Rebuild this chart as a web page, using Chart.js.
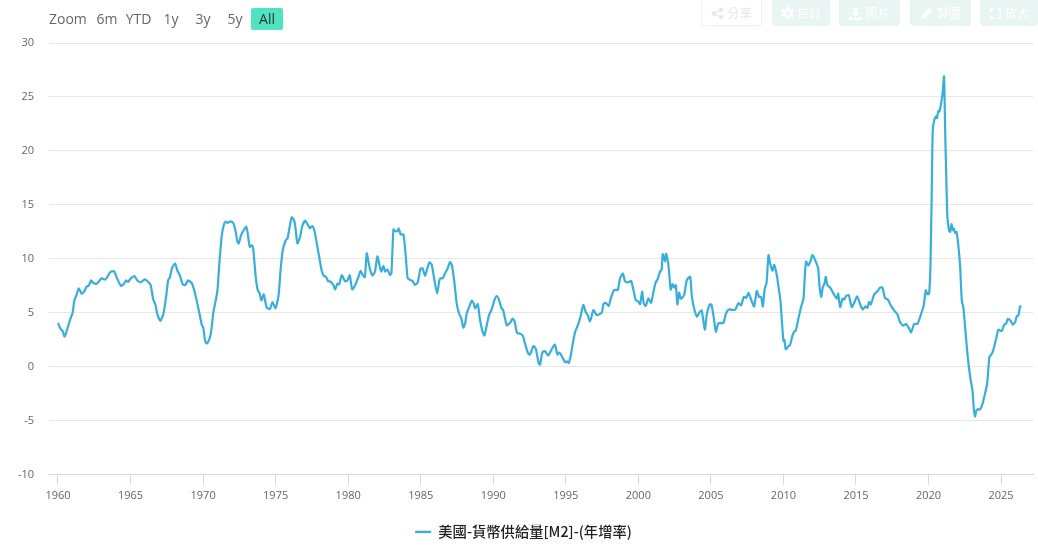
<!DOCTYPE html>
<html>
<head>
<meta charset="utf-8">
<title>美國-貨幣供給量[M2]-(年增率)</title>
<script src="https://cdn.jsdelivr.net/npm/chart.js@4/dist/chart.umd.min.js"></script>
<style>
  html, body { margin: 0; padding: 0; background: #fff; }
  body { width: 1038px; height: 545px; position: relative; overflow: hidden; font-family: "Open Sans", "Noto Sans CJK TC", sans-serif; }
  canvas { position: absolute; left: 0; top: 0; }
  .range { position: absolute; top: 8px; height: 22px; line-height: 22px; font-size: 14px; color: #666; text-align: center; }
  .range.on { background: #4fe3c1; color: #333; border-radius: 2px; }
  .tool { position: absolute; top: 0; height: 26px; line-height: 26px; font-size: 12px; color: #fff; background: #e8f5f2; border-radius: 0 0 4px 4px; text-align: center; font-family: "Noto Sans CJK TC", sans-serif; box-sizing: border-box; }
  .tool.plain { background: #fff; border: 1px solid #f0f0f0; border-top: 0; color: #e8e8e8; line-height: 25px; }
  .tool svg { width: 13px; height: 13px; vertical-align: -2px; margin-right: 3px; fill: currentColor; }
</style>
</head>
<body>
<canvas id="m2Chart" width="1038" height="545"></canvas>

<div class="range" style="left:49px;width:37px">Zoom</div>
<div class="range" style="left:96px;width:22px">6m</div>
<div class="range" style="left:125px;width:27px">YTD</div>
<div class="range" style="left:162px;width:18px">1y</div>
<div class="range" style="left:194px;width:18px">3y</div>
<div class="range" style="left:226px;width:18px">5y</div>
<div class="range on" style="left:251px;width:32px">All</div>

<div class="tool plain" style="left:701px;width:61px"><svg viewBox="0 0 14 14"><circle cx="3" cy="7" r="2.5"/><circle cx="11" cy="3" r="2.5"/><circle cx="11" cy="11" r="2.5"/><path d="M3 6.2 10.6 2.4 11.2 3.6 3.6 7.4zM3.6 6.6 11.2 10.4 10.6 11.6 3 7.8z"/></svg>分享</div>
<div class="tool" style="left:772px;width:58px"><svg viewBox="0 0 14 14"><path fill-rule="evenodd" d="M5.5 0h3l.4 2 1.6.8 1.9-.9 1.5 2.4-1.5 1.4v1.6l1.5 1.4-1.5 2.4-1.9-.9-1.6.8-.4 2h-3l-.4-2-1.6-.8-1.9.9L.1 8.7l1.5-1.4V5.7L.1 4.3l1.5-2.4 1.9.9L5.1 2zM7 4.6a2.4 2.4 0 1 0 0 4.8 2.4 2.4 0 0 0 0-4.8z"/></svg>自訂</div>
<div class="tool" style="left:839px;width:61px"><svg viewBox="0 0 14 14"><path d="M5 1h4v5h3L7 11 2 6h3zM0 11h3l1 1h6l1-1h3v3H0z"/></svg>圖片</div>
<div class="tool" style="left:910px;width:61px"><svg viewBox="0 0 14 14"><path d="M10 1l3 3-8 8-4 1 1-4z"/></svg>製圖</div>
<div class="tool" style="left:980px;width:58px"><svg viewBox="0 0 14 14"><path d="M1 1h4v2H3v2H1zM9 1h4v4h-2V3H9zM1 9h2v2h2v2H1zM11 9h2v4H9v-2h2z"/></svg>放大</div>

<script>
const seriesName = '美國-貨幣供給量[M2]-(年增率)';
const lineColor = '#37aedb';
const xTickYears = [1960, 1965, 1970, 1975, 1980, 1985, 1990, 1995, 2000, 2005, 2010, 2015, 2020, 2025];
const yTicks = [-10, -5, 0, 5, 10, 15, 20, 25, 30];

// values, one pair of arrays per decade
const years1960s = [1960.0,1960.18,1960.32,1960.46,1960.64,1960.83,1961.0,1961.13,1961.29,1961.43,1961.63,1961.82,1961.98,1962.11,1962.28,1962.44,1962.67,1963.01,1963.24,1963.43,1963.59,1963.86,1964.05,1964.34,1964.55,1964.69,1964.83,1965.0,1965.26,1965.47,1965.72,1965.98,1966.23,1966.39,1966.57,1966.71,1966.85,1967.06,1967.26,1967.45,1967.59,1967.72,1967.86,1968.07,1968.23,1968.37,1968.6,1968.78,1968.97,1969.24,1969.45,1969.68,1969.91];
const values1960s = [4.07,3.5,3.3,2.8,3.5,4.35,4.97,6.15,6.7,7.27,6.77,7.0,7.45,7.5,8.0,7.76,7.7,8.2,8.07,8.38,8.76,8.85,8.26,7.5,7.7,8.0,7.86,8.17,8.4,8.0,7.83,8.1,7.86,7.55,6.2,5.78,4.85,4.25,4.9,6.46,8.0,8.3,9.16,9.57,8.9,8.57,7.64,7.58,8.0,7.7,6.77,5.37,3.9];

const years1970s = [1970.02,1970.11,1970.23,1970.34,1970.53,1970.71,1970.85,1970.99,1971.13,1971.29,1971.43,1971.54,1971.68,1971.86,1972.09,1972.25,1972.37,1972.46,1972.62,1972.78,1972.97,1973.06,1973.22,1973.36,1973.45,1973.63,1973.77,1973.89,1974.02,1974.18,1974.39,1974.62,1974.78,1974.99,1975.2,1975.36,1975.49,1975.68,1975.82,1975.95,1976.11,1976.3,1976.41,1976.5,1976.69,1976.83,1977.03,1977.2,1977.36,1977.52,1977.66,1977.84,1978.02,1978.18,1978.34,1978.46,1978.62,1978.76,1978.99,1979.1,1979.26,1979.38,1979.56,1979.79,1979.95];
const values1970s = [3.6,2.58,2.17,2.27,3.04,5.06,6.0,7.08,9.72,12.2,13.14,13.45,13.32,13.48,13.3,12.5,11.58,11.43,12.2,12.6,13.0,12.5,11.1,11.27,10.96,8.3,7.08,6.83,6.15,6.7,5.47,5.37,6.0,5.43,6.6,9.25,10.8,11.68,11.9,12.83,13.85,13.45,12.36,11.43,12.05,13.0,13.54,13.2,12.83,13.04,12.67,11.43,10.03,8.88,8.38,8.38,7.92,7.92,7.55,7.17,7.7,7.64,8.48,7.92,8.0];

const years1980s = [1980.11,1980.28,1980.48,1980.71,1980.85,1981.01,1981.15,1981.28,1981.4,1981.51,1981.67,1981.85,1982.01,1982.2,1982.29,1982.43,1982.54,1982.7,1982.89,1982.98,1983.12,1983.23,1983.39,1983.48,1983.62,1983.81,1983.97,1984.1,1984.27,1984.43,1984.61,1984.79,1984.98,1985.12,1985.3,1985.46,1985.6,1985.76,1985.94,1986.13,1986.29,1986.38,1986.52,1986.68,1986.84,1987.02,1987.14,1987.3,1987.48,1987.64,1987.78,1987.94,1988.06,1988.17,1988.36,1988.52,1988.65,1988.75,1988.93,1989.09,1989.27,1989.39,1989.55,1989.71,1989.89];
const values1980s = [8.48,7.17,7.55,8.32,8.88,8.48,8.32,10.5,9.72,9.0,8.46,8.83,10.23,9.14,8.83,9.36,8.83,9.0,8.52,8.68,12.73,12.57,12.57,12.8,12.26,12.26,10.23,8.2,8.05,7.96,7.59,7.8,9.08,9.14,8.43,9.14,9.67,9.45,8.05,6.8,8.05,8.2,8.2,8.68,9.05,9.7,9.45,8.05,5.87,4.94,4.56,3.63,4.0,4.94,5.62,6.12,5.87,5.4,5.8,4.31,3.22,2.91,3.85,4.78,5.31];

const years1990s = [1990.08,1990.24,1990.4,1990.54,1990.68,1990.93,1991.16,1991.34,1991.48,1991.64,1991.85,1992.03,1992.22,1992.42,1992.54,1992.77,1992.93,1993.13,1993.23,1993.39,1993.57,1993.78,1993.96,1994.24,1994.42,1994.56,1994.74,1994.95,1995.06,1995.2,1995.34,1995.48,1995.64,1995.8,1995.98,1996.21,1996.37,1996.51,1996.65,1996.74,1996.9,1997.13,1997.48,1997.59,1997.75,1997.96,1998.12,1998.33,1998.58,1998.74,1998.93,1999.09,1999.32,1999.5,1999.66,1999.82];
const values1990s = [6.18,6.56,6.18,5.5,5.25,3.85,4.07,4.47,4.16,3.13,3.07,2.91,1.98,1.2,1.14,1.92,1.67,0.33,0.2,1.36,1.45,1.04,1.45,2.07,1.14,1.32,0.95,0.42,0.5,0.36,1.04,2.13,3.22,3.75,4.47,5.72,5.09,4.78,4.22,4.47,5.25,4.78,5.03,5.81,5.93,5.65,6.43,7.12,7.12,8.2,8.64,7.9,7.83,7.96,7.12,6.18];

const years2000s = [2000.0,2000.12,2000.26,2000.37,2000.51,2000.69,2000.88,2001.04,2001.2,2001.31,2001.5,2001.61,2001.68,2001.84,2001.91,2002.07,2002.23,2002.35,2002.46,2002.58,2002.69,2002.81,2002.92,2003.15,2003.34,2003.57,2003.68,2003.82,2004.03,2004.26,2004.37,2004.58,2004.72,2004.92,2005.04,2005.2,2005.34,2005.52,2005.86,2006.03,2006.23,2006.44,2006.67,2006.9,2007.08,2007.27,2007.43,2007.59,2007.75,2007.98,2008.16,2008.32,2008.46,2008.58,2008.71,2008.83,2008.97,2009.08,2009.24,2009.36,2009.54,2009.66,2009.79,2009.89];
const values2000s = [6.03,5.81,6.96,5.87,5.65,6.34,5.93,6.96,7.83,8.05,8.83,9.0,10.44,9.75,10.47,9.44,7.16,7.66,7.34,7.56,5.78,6.88,6.31,6.63,8.03,8.34,6.63,5.53,4.66,5.13,5.22,3.44,4.9,5.78,5.75,4.53,3.25,4.03,4.06,4.9,5.31,5.28,5.28,5.9,5.69,6.47,6.38,6.84,6.31,5.59,7.03,6.47,6.47,5.59,7.25,7.72,10.34,9.6,8.9,9.44,8.5,7.4,6.16,4.28];

const years2010s = [2010.0,2010.07,2010.16,2010.34,2010.46,2010.62,2010.76,2010.85,2011.03,2011.2,2011.38,2011.47,2011.56,2011.72,2011.88,2012.0,2012.18,2012.39,2012.48,2012.6,2012.71,2012.83,2012.92,2013.03,2013.22,2013.45,2013.68,2013.77,2013.91,2014.07,2014.2,2014.32,2014.5,2014.71,2014.87,2015.08,2015.29,2015.47,2015.65,2015.79,2015.9,2016.02,2016.25,2016.48,2016.66,2016.82,2017.0,2017.19,2017.4,2017.63,2017.86,2018.04,2018.27,2018.46,2018.64,2018.8,2019.01,2019.24,2019.47,2019.67,2019.81,2019.93];
const values2010s = [2.4,2.47,1.63,1.9,2.03,2.88,3.28,3.34,4.44,5.47,6.31,8.34,9.75,9.38,9.84,10.38,9.9,9.13,7.56,6.47,7.34,7.72,8.34,7.56,7.34,6.78,6.31,6.78,5.53,6.31,6.25,6.56,6.63,5.53,5.9,6.53,5.78,5.31,5.59,5.47,6.0,5.78,6.69,7.0,7.34,7.34,6.38,6.25,5.69,5.22,4.84,4.13,3.81,3.97,3.59,3.19,3.97,3.97,4.84,5.69,7.09,6.72];

const years2020s = [2020.04,2020.13,2020.22,2020.29,2020.41,2020.52,2020.57,2020.68,2020.75,2020.89,2020.98,2021.07,2021.14,2021.21,2021.3,2021.42,2021.49,2021.58,2021.67,2021.74,2021.83,2021.92,2022.04,2022.18,2022.29,2022.41,2022.52,2022.68,2022.87,2023.03,2023.12,2023.21,2023.28,2023.39,2023.55,2023.72,2023.9,2024.04,2024.13,2024.2,2024.36,2024.47,2024.66,2024.82,2025.05,2025.21,2025.35,2025.46,2025.67,2025.81,2025.97,2026.08,2026.2,2026.31,2026.4];
const values2020s = [6.78,9.26,16.07,21.95,22.94,23.19,23.03,23.7,23.65,24.58,25.5,26.9,22.26,18.24,13.9,12.57,12.5,13.22,12.66,12.82,12.41,12.5,11.42,9.26,6.16,5.39,3.68,1.21,-0.96,-2.2,-3.9,-4.61,-4.12,-3.93,-3.96,-3.44,-2.45,-1.58,-0.03,0.9,1.21,1.58,2.6,3.44,3.31,3.9,4.0,4.43,4.24,3.9,4.15,4.67,4.77,5.6,5.54];

const years = [...years1960s, ...years1970s, ...years1980s, ...years1990s, ...years2000s, ...years2010s, ...years2020s];
const values = [...values1960s, ...values1970s, ...values1980s, ...values1990s, ...values2000s, ...values2010s, ...values2020s];

const ctx = document.getElementById('m2Chart').getContext('2d');
new Chart(ctx, {
  type: 'line',
  data: {
    datasets: [{
      label: seriesName,
      data: years.map((y, i) => ({ x: y, y: values[i] })),
      borderColor: lineColor,
      backgroundColor: lineColor,
      borderWidth: 2.2,
      borderJoinStyle: 'round',
      pointRadius: 0,
      tension: 0.2
    }]
  },
  options: {
    responsive: false,
    animation: false,
    layout: { padding: { top: 43, right: 5, left: 14, bottom: -4 } },
    plugins: {
      tooltip: { enabled: false },
      legend: {
        position: 'bottom',
        labels: {
          usePointStyle: true,
          pointStyle: 'line',
          pointStyleWidth: 16,
          padding: 0,
          color: '#222',
          font: { family: '"Noto Sans CJK TC", sans-serif', size: 14.3, weight: '500' }
        }
      }
    },
    scales: {
      x: {
        type: 'linear',
        min: 1959.38,
        max: 2027.2,
        afterBuildTicks: axis => { axis.ticks = xTickYears.map(v => ({ value: v })); },
        afterFit: axis => { axis.height = 50; },
        border: { color: '#d8d8d8' },
        grid: { drawOnChartArea: false, tickLength: 10, color: '#d8d8d8' },
        ticks: {
          autoSkip: false,
          maxRotation: 0,
          padding: 5,
          color: '#666',
          font: { family: '"Open Sans", sans-serif', size: 11 },
          callback: v => String(v)
        }
      },
      y: {
        min: -10,
        max: 30,
        afterBuildTicks: axis => { axis.ticks = yTicks.map(v => ({ value: v })); },
        afterFit: axis => { axis.width = 35; },
        border: { display: false },
        grid: { color: '#e6e6e6', tickLength: 0 },
        ticks: {
          padding: 15,
          color: '#666',
          font: { family: '"Open Sans", sans-serif', size: 11 }
        }
      }
    }
  }
});
</script>
</body>
</html>
